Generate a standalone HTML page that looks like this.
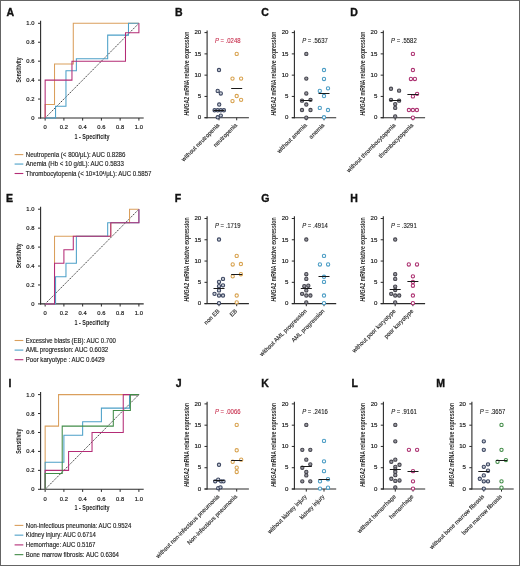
<!DOCTYPE html><html><head><meta charset="utf-8"><style>html,body{margin:0;padding:0;background:#fff;}svg{display:block;will-change:transform;}text{font-family:"Liberation Sans",sans-serif;}</style></head><body>
<svg width="520" height="566" viewBox="0 0 520 566">
<rect x="0" y="0" width="520" height="566" fill="#fff"/>
<text x="6.60" y="15.80" font-size="10.5" text-anchor="start" fill="#111" font-weight="bold" stroke="#111" stroke-width="0.35">A</text>
<line x1="40.60" y1="20.80" x2="40.60" y2="118.50" stroke="#2a2a2a" stroke-width="1.1" />
<line x1="40.10" y1="118.00" x2="143.70" y2="118.00" stroke="#2a2a2a" stroke-width="1.1" />
<line x1="38.00" y1="118.00" x2="40.60" y2="118.00" stroke="#2a2a2a" stroke-width="1.0" />
<text x="34.40" y="120.00" font-size="5.8" text-anchor="end" fill="#1a1a1a" stroke="#1a1a1a" stroke-width="0.18">0</text>
<line x1="45.15" y1="118.00" x2="45.15" y2="120.60" stroke="#2a2a2a" stroke-width="1.0" />
<text x="45.15" y="129.20" font-size="5.8" text-anchor="middle" fill="#1a1a1a" stroke="#1a1a1a" stroke-width="0.18">0</text>
<line x1="38.00" y1="99.06" x2="40.60" y2="99.06" stroke="#2a2a2a" stroke-width="1.0" />
<text x="34.40" y="101.06" font-size="5.8" text-anchor="end" fill="#1a1a1a" stroke="#1a1a1a" stroke-width="0.18">0.2</text>
<line x1="63.90" y1="118.00" x2="63.90" y2="120.60" stroke="#2a2a2a" stroke-width="1.0" />
<text x="63.90" y="129.20" font-size="5.8" text-anchor="middle" fill="#1a1a1a" stroke="#1a1a1a" stroke-width="0.18">0.2</text>
<line x1="38.00" y1="80.12" x2="40.60" y2="80.12" stroke="#2a2a2a" stroke-width="1.0" />
<text x="34.40" y="82.12" font-size="5.8" text-anchor="end" fill="#1a1a1a" stroke="#1a1a1a" stroke-width="0.18">0.4</text>
<line x1="82.65" y1="118.00" x2="82.65" y2="120.60" stroke="#2a2a2a" stroke-width="1.0" />
<text x="82.65" y="129.20" font-size="5.8" text-anchor="middle" fill="#1a1a1a" stroke="#1a1a1a" stroke-width="0.18">0.4</text>
<line x1="38.00" y1="61.18" x2="40.60" y2="61.18" stroke="#2a2a2a" stroke-width="1.0" />
<text x="34.40" y="63.18" font-size="5.8" text-anchor="end" fill="#1a1a1a" stroke="#1a1a1a" stroke-width="0.18">0.6</text>
<line x1="101.40" y1="118.00" x2="101.40" y2="120.60" stroke="#2a2a2a" stroke-width="1.0" />
<text x="101.40" y="129.20" font-size="5.8" text-anchor="middle" fill="#1a1a1a" stroke="#1a1a1a" stroke-width="0.18">0.6</text>
<line x1="38.00" y1="42.24" x2="40.60" y2="42.24" stroke="#2a2a2a" stroke-width="1.0" />
<text x="34.40" y="44.24" font-size="5.8" text-anchor="end" fill="#1a1a1a" stroke="#1a1a1a" stroke-width="0.18">0.8</text>
<line x1="120.15" y1="118.00" x2="120.15" y2="120.60" stroke="#2a2a2a" stroke-width="1.0" />
<text x="120.15" y="129.20" font-size="5.8" text-anchor="middle" fill="#1a1a1a" stroke="#1a1a1a" stroke-width="0.18">0.8</text>
<line x1="38.00" y1="23.30" x2="40.60" y2="23.30" stroke="#2a2a2a" stroke-width="1.0" />
<text x="34.40" y="25.30" font-size="5.8" text-anchor="end" fill="#1a1a1a" stroke="#1a1a1a" stroke-width="0.18">1.0</text>
<line x1="138.90" y1="118.00" x2="138.90" y2="120.60" stroke="#2a2a2a" stroke-width="1.0" />
<text x="138.90" y="129.20" font-size="5.8" text-anchor="middle" fill="#1a1a1a" stroke="#1a1a1a" stroke-width="0.18">1.0</text>
<text x="20.90" y="69.95" font-size="7" text-anchor="middle" fill="#222" font-weight="bold" textLength="25.00" lengthAdjust="spacingAndGlyphs" transform="rotate(-90 20.90 69.95)" >Sensitivity</text>
<text x="92.03" y="139.00" font-size="7" text-anchor="middle" fill="#222" font-weight="bold" textLength="35.00" lengthAdjust="spacingAndGlyphs" >1 - Specificity</text>
<line x1="45.15" y1="118.00" x2="138.90" y2="23.30" stroke="#2a2a2a" stroke-width="0.9" stroke-dasharray="1.5 1.0"/>
<polyline points="45.15,118.00 45.15,104.46 54.52,104.46 54.52,104.46 54.52,63.93 73.28,63.93 73.28,23.30 138.90,23.30" fill="none" stroke="#DA9F5C" stroke-width="1.05" stroke-linejoin="miter"/>
<polyline points="45.15,118.00 55.56,118.00 55.56,106.16 65.96,106.16 65.96,70.65 76.37,70.65 76.37,58.81 107.68,58.81 107.68,35.14 128.49,35.14 128.49,23.30 138.90,23.30" fill="none" stroke="#4CA0C8" stroke-width="1.05" stroke-linejoin="miter"/>
<polyline points="45.15,118.00 45.15,80.12 71.96,80.12 71.96,61.18 125.49,61.18 125.49,32.77 138.90,32.77 138.90,23.30" fill="none" stroke="#B42C76" stroke-width="1.05" stroke-linejoin="miter"/>
<line x1="14.60" y1="154.60" x2="23.30" y2="154.60" stroke="#DA9F5C" stroke-width="1.1" />
<text x="25.80" y="156.80" font-size="6.4" text-anchor="start" fill="#222" textLength="99.60" lengthAdjust="spacingAndGlyphs" stroke="#222" stroke-width="0.14">Neutropenia (&lt; 800/μL): AUC 0.8286</text>
<line x1="14.60" y1="164.05" x2="23.30" y2="164.05" stroke="#4CA0C8" stroke-width="1.1" />
<text x="25.80" y="166.25" font-size="6.4" text-anchor="start" fill="#222" textLength="98.00" lengthAdjust="spacingAndGlyphs" stroke="#222" stroke-width="0.14">Anemia (Hb &lt; 10 g/dL): AUC 0.5833</text>
<line x1="14.60" y1="173.50" x2="23.30" y2="173.50" stroke="#B42C76" stroke-width="1.1" />
<text x="25.80" y="175.70" font-size="6.4" text-anchor="start" fill="#222" textLength="125.70" lengthAdjust="spacingAndGlyphs" stroke="#222" stroke-width="0.14">Thrombocytopenia (&lt; 10×10<tspan font-size="3.6" dy="-2">4</tspan><tspan dy="2">/μL): AUC 0.5857</tspan></text>
<text x="6.10" y="201.70" font-size="10.5" text-anchor="start" fill="#111" font-weight="bold" stroke="#111" stroke-width="0.35">E</text>
<line x1="40.60" y1="206.70" x2="40.60" y2="304.40" stroke="#2a2a2a" stroke-width="1.1" />
<line x1="40.10" y1="303.90" x2="143.70" y2="303.90" stroke="#2a2a2a" stroke-width="1.1" />
<line x1="38.00" y1="303.90" x2="40.60" y2="303.90" stroke="#2a2a2a" stroke-width="1.0" />
<text x="34.40" y="305.90" font-size="5.8" text-anchor="end" fill="#1a1a1a" stroke="#1a1a1a" stroke-width="0.18">0</text>
<line x1="45.15" y1="303.90" x2="45.15" y2="306.50" stroke="#2a2a2a" stroke-width="1.0" />
<text x="45.15" y="315.10" font-size="5.8" text-anchor="middle" fill="#1a1a1a" stroke="#1a1a1a" stroke-width="0.18">0</text>
<line x1="38.00" y1="284.96" x2="40.60" y2="284.96" stroke="#2a2a2a" stroke-width="1.0" />
<text x="34.40" y="286.96" font-size="5.8" text-anchor="end" fill="#1a1a1a" stroke="#1a1a1a" stroke-width="0.18">0.2</text>
<line x1="63.90" y1="303.90" x2="63.90" y2="306.50" stroke="#2a2a2a" stroke-width="1.0" />
<text x="63.90" y="315.10" font-size="5.8" text-anchor="middle" fill="#1a1a1a" stroke="#1a1a1a" stroke-width="0.18">0.2</text>
<line x1="38.00" y1="266.02" x2="40.60" y2="266.02" stroke="#2a2a2a" stroke-width="1.0" />
<text x="34.40" y="268.02" font-size="5.8" text-anchor="end" fill="#1a1a1a" stroke="#1a1a1a" stroke-width="0.18">0.4</text>
<line x1="82.65" y1="303.90" x2="82.65" y2="306.50" stroke="#2a2a2a" stroke-width="1.0" />
<text x="82.65" y="315.10" font-size="5.8" text-anchor="middle" fill="#1a1a1a" stroke="#1a1a1a" stroke-width="0.18">0.4</text>
<line x1="38.00" y1="247.08" x2="40.60" y2="247.08" stroke="#2a2a2a" stroke-width="1.0" />
<text x="34.40" y="249.08" font-size="5.8" text-anchor="end" fill="#1a1a1a" stroke="#1a1a1a" stroke-width="0.18">0.6</text>
<line x1="101.40" y1="303.90" x2="101.40" y2="306.50" stroke="#2a2a2a" stroke-width="1.0" />
<text x="101.40" y="315.10" font-size="5.8" text-anchor="middle" fill="#1a1a1a" stroke="#1a1a1a" stroke-width="0.18">0.6</text>
<line x1="38.00" y1="228.14" x2="40.60" y2="228.14" stroke="#2a2a2a" stroke-width="1.0" />
<text x="34.40" y="230.14" font-size="5.8" text-anchor="end" fill="#1a1a1a" stroke="#1a1a1a" stroke-width="0.18">0.8</text>
<line x1="120.15" y1="303.90" x2="120.15" y2="306.50" stroke="#2a2a2a" stroke-width="1.0" />
<text x="120.15" y="315.10" font-size="5.8" text-anchor="middle" fill="#1a1a1a" stroke="#1a1a1a" stroke-width="0.18">0.8</text>
<line x1="38.00" y1="209.20" x2="40.60" y2="209.20" stroke="#2a2a2a" stroke-width="1.0" />
<text x="34.40" y="211.20" font-size="5.8" text-anchor="end" fill="#1a1a1a" stroke="#1a1a1a" stroke-width="0.18">1.0</text>
<line x1="138.90" y1="303.90" x2="138.90" y2="306.50" stroke="#2a2a2a" stroke-width="1.0" />
<text x="138.90" y="315.10" font-size="5.8" text-anchor="middle" fill="#1a1a1a" stroke="#1a1a1a" stroke-width="0.18">1.0</text>
<text x="20.90" y="255.85" font-size="7" text-anchor="middle" fill="#222" font-weight="bold" textLength="25.00" lengthAdjust="spacingAndGlyphs" transform="rotate(-90 20.90 255.85)" >Sensitivity</text>
<text x="92.03" y="324.90" font-size="7" text-anchor="middle" fill="#222" font-weight="bold" textLength="35.00" lengthAdjust="spacingAndGlyphs" >1 - Specificity</text>
<line x1="45.15" y1="303.90" x2="138.90" y2="209.20" stroke="#2a2a2a" stroke-width="0.9" stroke-dasharray="1.5 1.0"/>
<polyline points="45.15,303.90 54.52,303.90 54.52,236.28 110.78,236.28 110.78,222.74 129.53,222.74 129.53,209.20 138.90,209.20" fill="none" stroke="#DA9F5C" stroke-width="1.05" stroke-linejoin="miter"/>
<polyline points="45.15,303.90 55.56,303.90 55.56,276.82 65.96,276.82 65.96,263.27 76.37,263.27 76.37,236.28 107.68,236.28 107.68,222.74 138.90,222.74 138.90,209.20" fill="none" stroke="#4CA0C8" stroke-width="1.05" stroke-linejoin="miter"/>
<polyline points="45.15,303.90 54.52,303.90 54.52,263.27 63.90,263.27 63.90,249.83 73.28,249.83 73.28,236.28 110.78,236.28 110.78,222.74 138.90,222.74 138.90,209.20" fill="none" stroke="#B42C76" stroke-width="1.05" stroke-linejoin="miter"/>
<line x1="14.60" y1="340.50" x2="23.30" y2="340.50" stroke="#DA9F5C" stroke-width="1.1" />
<text x="25.80" y="342.70" font-size="6.4" text-anchor="start" fill="#222" textLength="90.00" lengthAdjust="spacingAndGlyphs" stroke="#222" stroke-width="0.14">Excessive blasts (EB): AUC 0.700</text>
<line x1="14.60" y1="350.10" x2="23.30" y2="350.10" stroke="#4CA0C8" stroke-width="1.1" />
<text x="25.80" y="352.30" font-size="6.4" text-anchor="start" fill="#222" textLength="82.40" lengthAdjust="spacingAndGlyphs" stroke="#222" stroke-width="0.14">AML progression: AUC 0.6032</text>
<line x1="14.60" y1="359.70" x2="23.30" y2="359.70" stroke="#B42C76" stroke-width="1.1" />
<text x="25.80" y="361.90" font-size="6.4" text-anchor="start" fill="#222" textLength="78.90" lengthAdjust="spacingAndGlyphs" stroke="#222" stroke-width="0.14">Poor karyotype : AUC 0.6429</text>
<text x="8.60" y="387.10" font-size="10.5" text-anchor="start" fill="#111" font-weight="bold" stroke="#111" stroke-width="0.35">I</text>
<line x1="40.60" y1="392.10" x2="40.60" y2="489.80" stroke="#2a2a2a" stroke-width="1.1" />
<line x1="40.10" y1="489.30" x2="143.70" y2="489.30" stroke="#2a2a2a" stroke-width="1.1" />
<line x1="38.00" y1="489.30" x2="40.60" y2="489.30" stroke="#2a2a2a" stroke-width="1.0" />
<text x="34.40" y="491.30" font-size="5.8" text-anchor="end" fill="#1a1a1a" stroke="#1a1a1a" stroke-width="0.18">0</text>
<line x1="45.15" y1="489.30" x2="45.15" y2="491.90" stroke="#2a2a2a" stroke-width="1.0" />
<text x="45.15" y="500.50" font-size="5.8" text-anchor="middle" fill="#1a1a1a" stroke="#1a1a1a" stroke-width="0.18">0</text>
<line x1="38.00" y1="470.36" x2="40.60" y2="470.36" stroke="#2a2a2a" stroke-width="1.0" />
<text x="34.40" y="472.36" font-size="5.8" text-anchor="end" fill="#1a1a1a" stroke="#1a1a1a" stroke-width="0.18">0.2</text>
<line x1="63.90" y1="489.30" x2="63.90" y2="491.90" stroke="#2a2a2a" stroke-width="1.0" />
<text x="63.90" y="500.50" font-size="5.8" text-anchor="middle" fill="#1a1a1a" stroke="#1a1a1a" stroke-width="0.18">0.2</text>
<line x1="38.00" y1="451.42" x2="40.60" y2="451.42" stroke="#2a2a2a" stroke-width="1.0" />
<text x="34.40" y="453.42" font-size="5.8" text-anchor="end" fill="#1a1a1a" stroke="#1a1a1a" stroke-width="0.18">0.4</text>
<line x1="82.65" y1="489.30" x2="82.65" y2="491.90" stroke="#2a2a2a" stroke-width="1.0" />
<text x="82.65" y="500.50" font-size="5.8" text-anchor="middle" fill="#1a1a1a" stroke="#1a1a1a" stroke-width="0.18">0.4</text>
<line x1="38.00" y1="432.48" x2="40.60" y2="432.48" stroke="#2a2a2a" stroke-width="1.0" />
<text x="34.40" y="434.48" font-size="5.8" text-anchor="end" fill="#1a1a1a" stroke="#1a1a1a" stroke-width="0.18">0.6</text>
<line x1="101.40" y1="489.30" x2="101.40" y2="491.90" stroke="#2a2a2a" stroke-width="1.0" />
<text x="101.40" y="500.50" font-size="5.8" text-anchor="middle" fill="#1a1a1a" stroke="#1a1a1a" stroke-width="0.18">0.6</text>
<line x1="38.00" y1="413.54" x2="40.60" y2="413.54" stroke="#2a2a2a" stroke-width="1.0" />
<text x="34.40" y="415.54" font-size="5.8" text-anchor="end" fill="#1a1a1a" stroke="#1a1a1a" stroke-width="0.18">0.8</text>
<line x1="120.15" y1="489.30" x2="120.15" y2="491.90" stroke="#2a2a2a" stroke-width="1.0" />
<text x="120.15" y="500.50" font-size="5.8" text-anchor="middle" fill="#1a1a1a" stroke="#1a1a1a" stroke-width="0.18">0.8</text>
<line x1="38.00" y1="394.60" x2="40.60" y2="394.60" stroke="#2a2a2a" stroke-width="1.0" />
<text x="34.40" y="396.60" font-size="5.8" text-anchor="end" fill="#1a1a1a" stroke="#1a1a1a" stroke-width="0.18">1.0</text>
<line x1="138.90" y1="489.30" x2="138.90" y2="491.90" stroke="#2a2a2a" stroke-width="1.0" />
<text x="138.90" y="500.50" font-size="5.8" text-anchor="middle" fill="#1a1a1a" stroke="#1a1a1a" stroke-width="0.18">1.0</text>
<text x="20.90" y="441.25" font-size="7" text-anchor="middle" fill="#222" font-weight="bold" textLength="25.00" lengthAdjust="spacingAndGlyphs" transform="rotate(-90 20.90 441.25)" >Sensitivity</text>
<text x="92.03" y="510.30" font-size="7" text-anchor="middle" fill="#222" font-weight="bold" textLength="35.00" lengthAdjust="spacingAndGlyphs" >1 - Specificity</text>
<line x1="45.15" y1="489.30" x2="138.90" y2="394.60" stroke="#2a2a2a" stroke-width="0.9" stroke-dasharray="1.5 1.0"/>
<polyline points="45.15,489.30 45.15,426.14 58.56,426.14 58.56,394.60 138.90,394.60" fill="none" stroke="#DA9F5C" stroke-width="1.05" stroke-linejoin="miter"/>
<polyline points="45.15,489.30 45.15,462.22 63.90,462.22 63.90,435.23 82.65,435.23 82.65,421.68 101.40,421.68 101.40,408.14 129.53,408.14 129.53,394.60 138.90,394.60" fill="none" stroke="#4CA0C8" stroke-width="1.05" stroke-linejoin="miter"/>
<polyline points="45.15,489.30 45.15,470.36 68.59,470.36 68.59,451.42 92.03,451.42 92.03,432.48 123.24,432.48 123.24,394.60 138.90,394.60" fill="none" stroke="#B42C76" stroke-width="1.05" stroke-linejoin="miter"/>
<polyline points="45.15,489.30 45.15,473.49 62.21,473.49 62.21,426.14 113.31,426.14 113.31,410.41 130.37,410.41 130.37,394.60 138.90,394.60" fill="none" stroke="#428C48" stroke-width="1.05" stroke-linejoin="miter"/>
<line x1="14.60" y1="525.40" x2="23.30" y2="525.40" stroke="#DA9F5C" stroke-width="1.1" />
<text x="25.80" y="527.60" font-size="6.4" text-anchor="start" fill="#222" textLength="105.50" lengthAdjust="spacingAndGlyphs" stroke="#222" stroke-width="0.14">Non-infectious pneumonia: AUC 0.9524</text>
<line x1="14.60" y1="535.15" x2="23.30" y2="535.15" stroke="#4CA0C8" stroke-width="1.1" />
<text x="25.80" y="537.35" font-size="6.4" text-anchor="start" fill="#222" textLength="70.10" lengthAdjust="spacingAndGlyphs" stroke="#222" stroke-width="0.14">Kidney injury: AUC 0.6714</text>
<line x1="14.60" y1="544.90" x2="23.30" y2="544.90" stroke="#B42C76" stroke-width="1.1" />
<text x="25.80" y="547.10" font-size="6.4" text-anchor="start" fill="#222" textLength="69.70" lengthAdjust="spacingAndGlyphs" stroke="#222" stroke-width="0.14">Hemorrhage: AUC 0.5167</text>
<line x1="14.60" y1="554.65" x2="23.30" y2="554.65" stroke="#428C48" stroke-width="1.1" />
<text x="25.80" y="556.85" font-size="6.4" text-anchor="start" fill="#222" textLength="93.20" lengthAdjust="spacingAndGlyphs" stroke="#222" stroke-width="0.14">Bone marrow fibrosis: AUC 0.6364</text>
<text x="175.10" y="15.80" font-size="10.5" text-anchor="start" fill="#111" font-weight="bold" stroke="#111" stroke-width="0.35">B</text>
<line x1="207.10" y1="30.40" x2="207.10" y2="118.20" stroke="#2a2a2a" stroke-width="1.1" />
<line x1="204.50" y1="117.70" x2="248.90" y2="117.70" stroke="#2a2a2a" stroke-width="1.1" />
<line x1="204.50" y1="117.70" x2="207.10" y2="117.70" stroke="#2a2a2a" stroke-width="1.0" />
<text x="201.20" y="119.45" font-size="6.1" text-anchor="end" fill="#1a1a1a" stroke="#1a1a1a" stroke-width="0.18">0</text>
<line x1="204.50" y1="96.43" x2="207.10" y2="96.43" stroke="#2a2a2a" stroke-width="1.0" />
<text x="201.20" y="98.18" font-size="6.1" text-anchor="end" fill="#1a1a1a" stroke="#1a1a1a" stroke-width="0.18">5</text>
<line x1="204.50" y1="75.15" x2="207.10" y2="75.15" stroke="#2a2a2a" stroke-width="1.0" />
<text x="201.20" y="76.90" font-size="6.1" text-anchor="end" fill="#1a1a1a" stroke="#1a1a1a" stroke-width="0.18">10</text>
<line x1="204.50" y1="53.88" x2="207.10" y2="53.88" stroke="#2a2a2a" stroke-width="1.0" />
<text x="201.20" y="55.62" font-size="6.1" text-anchor="end" fill="#1a1a1a" stroke="#1a1a1a" stroke-width="0.18">15</text>
<line x1="204.50" y1="32.60" x2="207.10" y2="32.60" stroke="#2a2a2a" stroke-width="1.0" />
<text x="201.20" y="34.35" font-size="6.1" text-anchor="end" fill="#1a1a1a" stroke="#1a1a1a" stroke-width="0.18">20</text>
<line x1="219.00" y1="117.70" x2="219.00" y2="120.30" stroke="#2a2a2a" stroke-width="1.0" />
<line x1="236.70" y1="117.70" x2="236.70" y2="120.30" stroke="#2a2a2a" stroke-width="1.0" />
<text x="188.90" y="73.55" font-size="6.9" font-weight="bold" text-anchor="middle" fill="#2a2a2a" textLength="84" lengthAdjust="spacingAndGlyphs" transform="rotate(-90 188.90 73.55)"><tspan font-style="italic">HMGA2</tspan> mRNA relative expression</text>
<text x="214.90" y="42.50" font-size="6.8" fill="#C8304E" stroke="#C8304E" stroke-width="0.12" textLength="25.6" lengthAdjust="spacingAndGlyphs"><tspan font-style="italic">P</tspan> = .0248</text>
<circle cx="219.00" cy="70.04" r="1.65" fill="#C8CDD6" stroke="#3C4660" stroke-width="1.05"/>
<circle cx="217.70" cy="90.89" r="1.65" fill="#C8CDD6" stroke="#3C4660" stroke-width="1.05"/>
<circle cx="220.80" cy="93.45" r="1.65" fill="#C8CDD6" stroke="#3C4660" stroke-width="1.05"/>
<circle cx="219.20" cy="104.51" r="1.65" fill="#C8CDD6" stroke="#3C4660" stroke-width="1.05"/>
<circle cx="214.60" cy="110.25" r="1.65" fill="#C8CDD6" stroke="#3C4660" stroke-width="1.05"/>
<circle cx="217.70" cy="110.25" r="1.65" fill="#C8CDD6" stroke="#3C4660" stroke-width="1.05"/>
<circle cx="220.80" cy="110.25" r="1.65" fill="#C8CDD6" stroke="#3C4660" stroke-width="1.05"/>
<circle cx="223.90" cy="110.25" r="1.65" fill="#C8CDD6" stroke="#3C4660" stroke-width="1.05"/>
<circle cx="217.70" cy="117.27" r="1.65" fill="#C8CDD6" stroke="#3C4660" stroke-width="1.05"/>
<circle cx="220.80" cy="115.57" r="1.65" fill="#C8CDD6" stroke="#3C4660" stroke-width="1.05"/>
<circle cx="236.70" cy="53.88" r="1.65" fill="#fff" stroke="#D8A24E" stroke-width="1.05"/>
<circle cx="232.50" cy="78.55" r="1.65" fill="#fff" stroke="#D8A24E" stroke-width="1.05"/>
<circle cx="241.10" cy="78.55" r="1.65" fill="#fff" stroke="#D8A24E" stroke-width="1.05"/>
<circle cx="236.70" cy="96.00" r="1.65" fill="#fff" stroke="#D8A24E" stroke-width="1.05"/>
<circle cx="232.50" cy="101.11" r="1.65" fill="#fff" stroke="#D8A24E" stroke-width="1.05"/>
<circle cx="241.10" cy="99.83" r="1.65" fill="#fff" stroke="#D8A24E" stroke-width="1.05"/>
<line x1="213.50" y1="110.50" x2="224.50" y2="110.50" stroke="#1a1a1a" stroke-width="1.0" />
<line x1="231.20" y1="88.50" x2="242.20" y2="88.50" stroke="#1a1a1a" stroke-width="1.0" />
<text x="219.90" y="125.60" font-size="5.85" text-anchor="end" fill="#2a2a2a" stroke="#2a2a2a" stroke-width="0.14" transform="rotate(-45 219.90 125.60)">without neutropenia</text>
<text x="237.60" y="125.60" font-size="5.85" text-anchor="end" fill="#2a2a2a" stroke="#2a2a2a" stroke-width="0.14" transform="rotate(-45 237.60 125.60)">neutropenia</text>
<text x="261.20" y="15.80" font-size="10.5" text-anchor="start" fill="#111" font-weight="bold" stroke="#111" stroke-width="0.35">C</text>
<line x1="294.40" y1="30.40" x2="294.40" y2="118.20" stroke="#2a2a2a" stroke-width="1.1" />
<line x1="291.80" y1="117.70" x2="336.20" y2="117.70" stroke="#2a2a2a" stroke-width="1.1" />
<line x1="291.80" y1="117.70" x2="294.40" y2="117.70" stroke="#2a2a2a" stroke-width="1.0" />
<text x="288.50" y="119.45" font-size="6.1" text-anchor="end" fill="#1a1a1a" stroke="#1a1a1a" stroke-width="0.18">0</text>
<line x1="291.80" y1="96.43" x2="294.40" y2="96.43" stroke="#2a2a2a" stroke-width="1.0" />
<text x="288.50" y="98.18" font-size="6.1" text-anchor="end" fill="#1a1a1a" stroke="#1a1a1a" stroke-width="0.18">5</text>
<line x1="291.80" y1="75.15" x2="294.40" y2="75.15" stroke="#2a2a2a" stroke-width="1.0" />
<text x="288.50" y="76.90" font-size="6.1" text-anchor="end" fill="#1a1a1a" stroke="#1a1a1a" stroke-width="0.18">10</text>
<line x1="291.80" y1="53.88" x2="294.40" y2="53.88" stroke="#2a2a2a" stroke-width="1.0" />
<text x="288.50" y="55.62" font-size="6.1" text-anchor="end" fill="#1a1a1a" stroke="#1a1a1a" stroke-width="0.18">15</text>
<line x1="291.80" y1="32.60" x2="294.40" y2="32.60" stroke="#2a2a2a" stroke-width="1.0" />
<text x="288.50" y="34.35" font-size="6.1" text-anchor="end" fill="#1a1a1a" stroke="#1a1a1a" stroke-width="0.18">20</text>
<line x1="306.30" y1="117.70" x2="306.30" y2="120.30" stroke="#2a2a2a" stroke-width="1.0" />
<line x1="324.00" y1="117.70" x2="324.00" y2="120.30" stroke="#2a2a2a" stroke-width="1.0" />
<text x="276.20" y="73.55" font-size="6.9" font-weight="bold" text-anchor="middle" fill="#2a2a2a" textLength="84" lengthAdjust="spacingAndGlyphs" transform="rotate(-90 276.20 73.55)"><tspan font-style="italic">HMGA2</tspan> mRNA relative expression</text>
<text x="302.20" y="42.50" font-size="6.8" fill="#222" stroke="#222" stroke-width="0.12" textLength="25.6" lengthAdjust="spacingAndGlyphs"><tspan font-style="italic">P</tspan> = .5637</text>
<circle cx="306.30" cy="53.88" r="1.65" fill="#9A9AA2" stroke="#45454D" stroke-width="1.05"/>
<circle cx="306.30" cy="78.55" r="1.65" fill="#9A9AA2" stroke="#45454D" stroke-width="1.05"/>
<circle cx="306.30" cy="93.45" r="1.65" fill="#9A9AA2" stroke="#45454D" stroke-width="1.05"/>
<circle cx="302.00" cy="100.68" r="1.65" fill="#9A9AA2" stroke="#45454D" stroke-width="1.05"/>
<circle cx="310.50" cy="99.83" r="1.65" fill="#9A9AA2" stroke="#45454D" stroke-width="1.05"/>
<circle cx="306.30" cy="104.51" r="1.65" fill="#9A9AA2" stroke="#45454D" stroke-width="1.05"/>
<circle cx="302.00" cy="110.04" r="1.65" fill="#9A9AA2" stroke="#45454D" stroke-width="1.05"/>
<circle cx="310.50" cy="110.04" r="1.65" fill="#9A9AA2" stroke="#45454D" stroke-width="1.05"/>
<circle cx="306.30" cy="117.70" r="1.65" fill="#9A9AA2" stroke="#45454D" stroke-width="1.05"/>
<circle cx="324.00" cy="70.04" r="1.65" fill="#fff" stroke="#4A9CC4" stroke-width="1.05"/>
<circle cx="324.00" cy="78.98" r="1.65" fill="#fff" stroke="#4A9CC4" stroke-width="1.05"/>
<circle cx="319.80" cy="90.89" r="1.65" fill="#fff" stroke="#4A9CC4" stroke-width="1.05"/>
<circle cx="328.00" cy="88.34" r="1.65" fill="#fff" stroke="#4A9CC4" stroke-width="1.05"/>
<circle cx="324.00" cy="96.00" r="1.65" fill="#fff" stroke="#4A9CC4" stroke-width="1.05"/>
<circle cx="319.80" cy="107.91" r="1.65" fill="#fff" stroke="#4A9CC4" stroke-width="1.05"/>
<circle cx="328.00" cy="110.04" r="1.65" fill="#fff" stroke="#4A9CC4" stroke-width="1.05"/>
<circle cx="324.00" cy="117.27" r="1.65" fill="#fff" stroke="#4A9CC4" stroke-width="1.05"/>
<line x1="300.80" y1="100.50" x2="311.80" y2="100.50" stroke="#1a1a1a" stroke-width="1.0" />
<line x1="318.50" y1="93.50" x2="329.50" y2="93.50" stroke="#1a1a1a" stroke-width="1.0" />
<text x="307.20" y="125.60" font-size="5.85" text-anchor="end" fill="#2a2a2a" stroke="#2a2a2a" stroke-width="0.14" transform="rotate(-45 307.20 125.60)">without anemia</text>
<text x="324.90" y="125.60" font-size="5.85" text-anchor="end" fill="#2a2a2a" stroke="#2a2a2a" stroke-width="0.14" transform="rotate(-45 324.90 125.60)">anemia</text>
<text x="350.30" y="15.80" font-size="10.5" text-anchor="start" fill="#111" font-weight="bold" stroke="#111" stroke-width="0.35">D</text>
<line x1="383.30" y1="30.40" x2="383.30" y2="118.20" stroke="#2a2a2a" stroke-width="1.1" />
<line x1="380.70" y1="117.70" x2="425.10" y2="117.70" stroke="#2a2a2a" stroke-width="1.1" />
<line x1="380.70" y1="117.70" x2="383.30" y2="117.70" stroke="#2a2a2a" stroke-width="1.0" />
<text x="377.40" y="119.45" font-size="6.1" text-anchor="end" fill="#1a1a1a" stroke="#1a1a1a" stroke-width="0.18">0</text>
<line x1="380.70" y1="96.43" x2="383.30" y2="96.43" stroke="#2a2a2a" stroke-width="1.0" />
<text x="377.40" y="98.18" font-size="6.1" text-anchor="end" fill="#1a1a1a" stroke="#1a1a1a" stroke-width="0.18">5</text>
<line x1="380.70" y1="75.15" x2="383.30" y2="75.15" stroke="#2a2a2a" stroke-width="1.0" />
<text x="377.40" y="76.90" font-size="6.1" text-anchor="end" fill="#1a1a1a" stroke="#1a1a1a" stroke-width="0.18">10</text>
<line x1="380.70" y1="53.88" x2="383.30" y2="53.88" stroke="#2a2a2a" stroke-width="1.0" />
<text x="377.40" y="55.62" font-size="6.1" text-anchor="end" fill="#1a1a1a" stroke="#1a1a1a" stroke-width="0.18">15</text>
<line x1="380.70" y1="32.60" x2="383.30" y2="32.60" stroke="#2a2a2a" stroke-width="1.0" />
<text x="377.40" y="34.35" font-size="6.1" text-anchor="end" fill="#1a1a1a" stroke="#1a1a1a" stroke-width="0.18">20</text>
<line x1="395.20" y1="117.70" x2="395.20" y2="120.30" stroke="#2a2a2a" stroke-width="1.0" />
<line x1="412.90" y1="117.70" x2="412.90" y2="120.30" stroke="#2a2a2a" stroke-width="1.0" />
<text x="365.10" y="73.55" font-size="6.9" font-weight="bold" text-anchor="middle" fill="#2a2a2a" textLength="84" lengthAdjust="spacingAndGlyphs" transform="rotate(-90 365.10 73.55)"><tspan font-style="italic">HMGA2</tspan> mRNA relative expression</text>
<text x="391.10" y="42.50" font-size="6.8" fill="#222" stroke="#222" stroke-width="0.12" textLength="25.6" lengthAdjust="spacingAndGlyphs"><tspan font-style="italic">P</tspan> = .5582</text>
<circle cx="391.00" cy="88.77" r="1.65" fill="#9A9AA2" stroke="#45454D" stroke-width="1.05"/>
<circle cx="399.10" cy="90.68" r="1.65" fill="#9A9AA2" stroke="#45454D" stroke-width="1.05"/>
<circle cx="391.00" cy="99.83" r="1.65" fill="#9A9AA2" stroke="#45454D" stroke-width="1.05"/>
<circle cx="399.10" cy="100.68" r="1.65" fill="#9A9AA2" stroke="#45454D" stroke-width="1.05"/>
<circle cx="395.20" cy="104.08" r="1.65" fill="#9A9AA2" stroke="#45454D" stroke-width="1.05"/>
<circle cx="395.20" cy="107.91" r="1.65" fill="#9A9AA2" stroke="#45454D" stroke-width="1.05"/>
<circle cx="395.20" cy="116.42" r="1.65" fill="#9A9AA2" stroke="#45454D" stroke-width="1.05"/>
<circle cx="412.90" cy="53.88" r="1.65" fill="#fff" stroke="#AC3070" stroke-width="1.05"/>
<circle cx="412.90" cy="70.04" r="1.65" fill="#fff" stroke="#AC3070" stroke-width="1.05"/>
<circle cx="410.90" cy="78.98" r="1.65" fill="#fff" stroke="#AC3070" stroke-width="1.05"/>
<circle cx="414.90" cy="78.98" r="1.65" fill="#fff" stroke="#AC3070" stroke-width="1.05"/>
<circle cx="417.10" cy="93.87" r="1.65" fill="#fff" stroke="#AC3070" stroke-width="1.05"/>
<circle cx="412.90" cy="96.43" r="1.65" fill="#fff" stroke="#AC3070" stroke-width="1.05"/>
<circle cx="408.90" cy="110.04" r="1.65" fill="#fff" stroke="#AC3070" stroke-width="1.05"/>
<circle cx="412.90" cy="110.04" r="1.65" fill="#fff" stroke="#AC3070" stroke-width="1.05"/>
<circle cx="416.90" cy="110.04" r="1.65" fill="#fff" stroke="#AC3070" stroke-width="1.05"/>
<circle cx="412.90" cy="117.70" r="1.65" fill="#fff" stroke="#AC3070" stroke-width="1.05"/>
<line x1="389.70" y1="100.50" x2="400.70" y2="100.50" stroke="#1a1a1a" stroke-width="1.0" />
<line x1="407.40" y1="94.50" x2="418.40" y2="94.50" stroke="#1a1a1a" stroke-width="1.0" />
<text x="396.10" y="125.60" font-size="5.85" text-anchor="end" fill="#2a2a2a" stroke="#2a2a2a" stroke-width="0.14" transform="rotate(-45 396.10 125.60)">without thrombocytopenia</text>
<text x="413.80" y="125.60" font-size="5.85" text-anchor="end" fill="#2a2a2a" stroke="#2a2a2a" stroke-width="0.14" transform="rotate(-45 413.80 125.60)">thrombocytopenia</text>
<text x="174.80" y="201.70" font-size="10.5" text-anchor="start" fill="#111" font-weight="bold" stroke="#111" stroke-width="0.35">F</text>
<line x1="207.10" y1="216.30" x2="207.10" y2="304.10" stroke="#2a2a2a" stroke-width="1.1" />
<line x1="204.50" y1="303.60" x2="248.90" y2="303.60" stroke="#2a2a2a" stroke-width="1.1" />
<line x1="204.50" y1="303.60" x2="207.10" y2="303.60" stroke="#2a2a2a" stroke-width="1.0" />
<text x="201.20" y="305.35" font-size="6.1" text-anchor="end" fill="#1a1a1a" stroke="#1a1a1a" stroke-width="0.18">0</text>
<line x1="204.50" y1="282.33" x2="207.10" y2="282.33" stroke="#2a2a2a" stroke-width="1.0" />
<text x="201.20" y="284.08" font-size="6.1" text-anchor="end" fill="#1a1a1a" stroke="#1a1a1a" stroke-width="0.18">5</text>
<line x1="204.50" y1="261.05" x2="207.10" y2="261.05" stroke="#2a2a2a" stroke-width="1.0" />
<text x="201.20" y="262.80" font-size="6.1" text-anchor="end" fill="#1a1a1a" stroke="#1a1a1a" stroke-width="0.18">10</text>
<line x1="204.50" y1="239.78" x2="207.10" y2="239.78" stroke="#2a2a2a" stroke-width="1.0" />
<text x="201.20" y="241.53" font-size="6.1" text-anchor="end" fill="#1a1a1a" stroke="#1a1a1a" stroke-width="0.18">15</text>
<line x1="204.50" y1="218.50" x2="207.10" y2="218.50" stroke="#2a2a2a" stroke-width="1.0" />
<text x="201.20" y="220.25" font-size="6.1" text-anchor="end" fill="#1a1a1a" stroke="#1a1a1a" stroke-width="0.18">20</text>
<line x1="219.00" y1="303.60" x2="219.00" y2="306.20" stroke="#2a2a2a" stroke-width="1.0" />
<line x1="236.70" y1="303.60" x2="236.70" y2="306.20" stroke="#2a2a2a" stroke-width="1.0" />
<text x="188.90" y="259.45" font-size="6.9" font-weight="bold" text-anchor="middle" fill="#2a2a2a" textLength="84" lengthAdjust="spacingAndGlyphs" transform="rotate(-90 188.90 259.45)"><tspan font-style="italic">HMGA2</tspan> mRNA relative expression</text>
<text x="214.90" y="228.40" font-size="6.8" fill="#222" stroke="#222" stroke-width="0.12" textLength="25.6" lengthAdjust="spacingAndGlyphs"><tspan font-style="italic">P</tspan> = .1719</text>
<circle cx="219.00" cy="239.52" r="1.65" fill="#C8CDD6" stroke="#3C4660" stroke-width="1.05"/>
<circle cx="223.00" cy="278.92" r="1.65" fill="#C8CDD6" stroke="#3C4660" stroke-width="1.05"/>
<circle cx="219.00" cy="281.90" r="1.65" fill="#C8CDD6" stroke="#3C4660" stroke-width="1.05"/>
<circle cx="223.00" cy="285.30" r="1.65" fill="#C8CDD6" stroke="#3C4660" stroke-width="1.05"/>
<circle cx="219.00" cy="286.15" r="1.65" fill="#C8CDD6" stroke="#3C4660" stroke-width="1.05"/>
<circle cx="219.00" cy="290.41" r="1.65" fill="#C8CDD6" stroke="#3C4660" stroke-width="1.05"/>
<circle cx="214.50" cy="293.81" r="1.65" fill="#C8CDD6" stroke="#3C4660" stroke-width="1.05"/>
<circle cx="219.00" cy="295.52" r="1.65" fill="#C8CDD6" stroke="#3C4660" stroke-width="1.05"/>
<circle cx="223.00" cy="295.52" r="1.65" fill="#C8CDD6" stroke="#3C4660" stroke-width="1.05"/>
<circle cx="219.00" cy="303.17" r="1.65" fill="#C8CDD6" stroke="#3C4660" stroke-width="1.05"/>
<circle cx="236.70" cy="255.94" r="1.65" fill="#fff" stroke="#D8A24E" stroke-width="1.05"/>
<circle cx="232.70" cy="264.45" r="1.65" fill="#fff" stroke="#D8A24E" stroke-width="1.05"/>
<circle cx="240.90" cy="264.03" r="1.65" fill="#fff" stroke="#D8A24E" stroke-width="1.05"/>
<circle cx="240.90" cy="274.24" r="1.65" fill="#fff" stroke="#D8A24E" stroke-width="1.05"/>
<circle cx="232.70" cy="276.37" r="1.65" fill="#fff" stroke="#D8A24E" stroke-width="1.05"/>
<circle cx="236.70" cy="295.52" r="1.65" fill="#fff" stroke="#D8A24E" stroke-width="1.05"/>
<circle cx="236.70" cy="302.32" r="1.65" fill="#fff" stroke="#D8A24E" stroke-width="1.05"/>
<line x1="213.50" y1="288.50" x2="224.50" y2="288.50" stroke="#1a1a1a" stroke-width="1.0" />
<line x1="231.20" y1="274.50" x2="242.20" y2="274.50" stroke="#1a1a1a" stroke-width="1.0" />
<text x="219.90" y="311.50" font-size="5.85" text-anchor="end" fill="#2a2a2a" stroke="#2a2a2a" stroke-width="0.14" transform="rotate(-45 219.90 311.50)">non EB</text>
<text x="237.60" y="311.50" font-size="5.85" text-anchor="end" fill="#2a2a2a" stroke="#2a2a2a" stroke-width="0.14" transform="rotate(-45 237.60 311.50)">EB</text>
<text x="261.20" y="201.70" font-size="10.5" text-anchor="start" fill="#111" font-weight="bold" stroke="#111" stroke-width="0.35">G</text>
<line x1="294.40" y1="216.30" x2="294.40" y2="304.10" stroke="#2a2a2a" stroke-width="1.1" />
<line x1="291.80" y1="303.60" x2="336.20" y2="303.60" stroke="#2a2a2a" stroke-width="1.1" />
<line x1="291.80" y1="303.60" x2="294.40" y2="303.60" stroke="#2a2a2a" stroke-width="1.0" />
<text x="288.50" y="305.35" font-size="6.1" text-anchor="end" fill="#1a1a1a" stroke="#1a1a1a" stroke-width="0.18">0</text>
<line x1="291.80" y1="282.33" x2="294.40" y2="282.33" stroke="#2a2a2a" stroke-width="1.0" />
<text x="288.50" y="284.08" font-size="6.1" text-anchor="end" fill="#1a1a1a" stroke="#1a1a1a" stroke-width="0.18">5</text>
<line x1="291.80" y1="261.05" x2="294.40" y2="261.05" stroke="#2a2a2a" stroke-width="1.0" />
<text x="288.50" y="262.80" font-size="6.1" text-anchor="end" fill="#1a1a1a" stroke="#1a1a1a" stroke-width="0.18">10</text>
<line x1="291.80" y1="239.78" x2="294.40" y2="239.78" stroke="#2a2a2a" stroke-width="1.0" />
<text x="288.50" y="241.53" font-size="6.1" text-anchor="end" fill="#1a1a1a" stroke="#1a1a1a" stroke-width="0.18">15</text>
<line x1="291.80" y1="218.50" x2="294.40" y2="218.50" stroke="#2a2a2a" stroke-width="1.0" />
<text x="288.50" y="220.25" font-size="6.1" text-anchor="end" fill="#1a1a1a" stroke="#1a1a1a" stroke-width="0.18">20</text>
<line x1="306.30" y1="303.60" x2="306.30" y2="306.20" stroke="#2a2a2a" stroke-width="1.0" />
<line x1="324.00" y1="303.60" x2="324.00" y2="306.20" stroke="#2a2a2a" stroke-width="1.0" />
<text x="276.20" y="259.45" font-size="6.9" font-weight="bold" text-anchor="middle" fill="#2a2a2a" textLength="84" lengthAdjust="spacingAndGlyphs" transform="rotate(-90 276.20 259.45)"><tspan font-style="italic">HMGA2</tspan> mRNA relative expression</text>
<text x="302.20" y="228.40" font-size="6.8" fill="#222" stroke="#222" stroke-width="0.12" textLength="25.6" lengthAdjust="spacingAndGlyphs"><tspan font-style="italic">P</tspan> = .4914</text>
<circle cx="306.30" cy="239.52" r="1.65" fill="#9A9AA2" stroke="#45454D" stroke-width="1.05"/>
<circle cx="306.30" cy="274.24" r="1.65" fill="#9A9AA2" stroke="#45454D" stroke-width="1.05"/>
<circle cx="306.30" cy="278.92" r="1.65" fill="#9A9AA2" stroke="#45454D" stroke-width="1.05"/>
<circle cx="304.30" cy="286.15" r="1.65" fill="#9A9AA2" stroke="#45454D" stroke-width="1.05"/>
<circle cx="308.30" cy="285.73" r="1.65" fill="#9A9AA2" stroke="#45454D" stroke-width="1.05"/>
<circle cx="306.30" cy="290.41" r="1.65" fill="#9A9AA2" stroke="#45454D" stroke-width="1.05"/>
<circle cx="302.10" cy="293.81" r="1.65" fill="#9A9AA2" stroke="#45454D" stroke-width="1.05"/>
<circle cx="306.30" cy="295.52" r="1.65" fill="#9A9AA2" stroke="#45454D" stroke-width="1.05"/>
<circle cx="310.40" cy="295.52" r="1.65" fill="#9A9AA2" stroke="#45454D" stroke-width="1.05"/>
<circle cx="306.30" cy="302.32" r="1.65" fill="#9A9AA2" stroke="#45454D" stroke-width="1.05"/>
<circle cx="324.00" cy="255.94" r="1.65" fill="#fff" stroke="#4A9CC4" stroke-width="1.05"/>
<circle cx="319.90" cy="264.45" r="1.65" fill="#fff" stroke="#4A9CC4" stroke-width="1.05"/>
<circle cx="328.10" cy="264.45" r="1.65" fill="#fff" stroke="#4A9CC4" stroke-width="1.05"/>
<circle cx="324.00" cy="276.79" r="1.65" fill="#fff" stroke="#4A9CC4" stroke-width="1.05"/>
<circle cx="324.00" cy="281.90" r="1.65" fill="#fff" stroke="#4A9CC4" stroke-width="1.05"/>
<circle cx="324.00" cy="295.52" r="1.65" fill="#fff" stroke="#4A9CC4" stroke-width="1.05"/>
<circle cx="324.00" cy="303.17" r="1.65" fill="#fff" stroke="#4A9CC4" stroke-width="1.05"/>
<line x1="300.80" y1="288.50" x2="311.80" y2="288.50" stroke="#1a1a1a" stroke-width="1.0" />
<line x1="318.50" y1="276.50" x2="329.50" y2="276.50" stroke="#1a1a1a" stroke-width="1.0" />
<text x="307.20" y="311.50" font-size="5.85" text-anchor="end" fill="#2a2a2a" stroke="#2a2a2a" stroke-width="0.14" transform="rotate(-45 307.20 311.50)">without AML progression</text>
<text x="324.90" y="311.50" font-size="5.85" text-anchor="end" fill="#2a2a2a" stroke="#2a2a2a" stroke-width="0.14" transform="rotate(-45 324.90 311.50)">AML progression</text>
<text x="350.30" y="201.70" font-size="10.5" text-anchor="start" fill="#111" font-weight="bold" stroke="#111" stroke-width="0.35">H</text>
<line x1="383.30" y1="216.30" x2="383.30" y2="304.10" stroke="#2a2a2a" stroke-width="1.1" />
<line x1="380.70" y1="303.60" x2="425.10" y2="303.60" stroke="#2a2a2a" stroke-width="1.1" />
<line x1="380.70" y1="303.60" x2="383.30" y2="303.60" stroke="#2a2a2a" stroke-width="1.0" />
<text x="377.40" y="305.35" font-size="6.1" text-anchor="end" fill="#1a1a1a" stroke="#1a1a1a" stroke-width="0.18">0</text>
<line x1="380.70" y1="282.33" x2="383.30" y2="282.33" stroke="#2a2a2a" stroke-width="1.0" />
<text x="377.40" y="284.08" font-size="6.1" text-anchor="end" fill="#1a1a1a" stroke="#1a1a1a" stroke-width="0.18">5</text>
<line x1="380.70" y1="261.05" x2="383.30" y2="261.05" stroke="#2a2a2a" stroke-width="1.0" />
<text x="377.40" y="262.80" font-size="6.1" text-anchor="end" fill="#1a1a1a" stroke="#1a1a1a" stroke-width="0.18">10</text>
<line x1="380.70" y1="239.78" x2="383.30" y2="239.78" stroke="#2a2a2a" stroke-width="1.0" />
<text x="377.40" y="241.53" font-size="6.1" text-anchor="end" fill="#1a1a1a" stroke="#1a1a1a" stroke-width="0.18">15</text>
<line x1="380.70" y1="218.50" x2="383.30" y2="218.50" stroke="#2a2a2a" stroke-width="1.0" />
<text x="377.40" y="220.25" font-size="6.1" text-anchor="end" fill="#1a1a1a" stroke="#1a1a1a" stroke-width="0.18">20</text>
<line x1="395.20" y1="303.60" x2="395.20" y2="306.20" stroke="#2a2a2a" stroke-width="1.0" />
<line x1="412.90" y1="303.60" x2="412.90" y2="306.20" stroke="#2a2a2a" stroke-width="1.0" />
<text x="365.10" y="259.45" font-size="6.9" font-weight="bold" text-anchor="middle" fill="#2a2a2a" textLength="84" lengthAdjust="spacingAndGlyphs" transform="rotate(-90 365.10 259.45)"><tspan font-style="italic">HMGA2</tspan> mRNA relative expression</text>
<text x="391.10" y="228.40" font-size="6.8" fill="#222" stroke="#222" stroke-width="0.12" textLength="25.6" lengthAdjust="spacingAndGlyphs"><tspan font-style="italic">P</tspan> = .3291</text>
<circle cx="395.20" cy="239.52" r="1.65" fill="#9A9AA2" stroke="#45454D" stroke-width="1.05"/>
<circle cx="395.20" cy="274.24" r="1.65" fill="#9A9AA2" stroke="#45454D" stroke-width="1.05"/>
<circle cx="395.20" cy="278.92" r="1.65" fill="#9A9AA2" stroke="#45454D" stroke-width="1.05"/>
<circle cx="395.20" cy="286.58" r="1.65" fill="#9A9AA2" stroke="#45454D" stroke-width="1.05"/>
<circle cx="395.20" cy="289.98" r="1.65" fill="#9A9AA2" stroke="#45454D" stroke-width="1.05"/>
<circle cx="391.20" cy="293.81" r="1.65" fill="#9A9AA2" stroke="#45454D" stroke-width="1.05"/>
<circle cx="395.20" cy="295.52" r="1.65" fill="#9A9AA2" stroke="#45454D" stroke-width="1.05"/>
<circle cx="399.20" cy="295.52" r="1.65" fill="#9A9AA2" stroke="#45454D" stroke-width="1.05"/>
<circle cx="395.20" cy="302.32" r="1.65" fill="#9A9AA2" stroke="#45454D" stroke-width="1.05"/>
<circle cx="408.80" cy="264.45" r="1.65" fill="#fff" stroke="#AC3070" stroke-width="1.05"/>
<circle cx="417.00" cy="264.45" r="1.65" fill="#fff" stroke="#AC3070" stroke-width="1.05"/>
<circle cx="412.90" cy="276.37" r="1.65" fill="#fff" stroke="#AC3070" stroke-width="1.05"/>
<circle cx="412.90" cy="281.90" r="1.65" fill="#fff" stroke="#AC3070" stroke-width="1.05"/>
<circle cx="412.90" cy="285.73" r="1.65" fill="#fff" stroke="#AC3070" stroke-width="1.05"/>
<circle cx="412.90" cy="295.52" r="1.65" fill="#fff" stroke="#AC3070" stroke-width="1.05"/>
<circle cx="412.90" cy="303.17" r="1.65" fill="#fff" stroke="#AC3070" stroke-width="1.05"/>
<line x1="389.70" y1="289.50" x2="400.70" y2="289.50" stroke="#1a1a1a" stroke-width="1.0" />
<line x1="407.40" y1="281.50" x2="418.40" y2="281.50" stroke="#1a1a1a" stroke-width="1.0" />
<text x="396.10" y="311.50" font-size="5.85" text-anchor="end" fill="#2a2a2a" stroke="#2a2a2a" stroke-width="0.14" transform="rotate(-45 396.10 311.50)">without poor karyotype</text>
<text x="413.80" y="311.50" font-size="5.85" text-anchor="end" fill="#2a2a2a" stroke="#2a2a2a" stroke-width="0.14" transform="rotate(-45 413.80 311.50)">poor karyotype</text>
<text x="175.70" y="387.10" font-size="10.5" text-anchor="start" fill="#111" font-weight="bold" stroke="#111" stroke-width="0.35">J</text>
<line x1="207.10" y1="401.70" x2="207.10" y2="489.50" stroke="#2a2a2a" stroke-width="1.1" />
<line x1="204.50" y1="489.00" x2="248.90" y2="489.00" stroke="#2a2a2a" stroke-width="1.1" />
<line x1="204.50" y1="489.00" x2="207.10" y2="489.00" stroke="#2a2a2a" stroke-width="1.0" />
<text x="201.20" y="490.75" font-size="6.1" text-anchor="end" fill="#1a1a1a" stroke="#1a1a1a" stroke-width="0.18">0</text>
<line x1="204.50" y1="467.73" x2="207.10" y2="467.73" stroke="#2a2a2a" stroke-width="1.0" />
<text x="201.20" y="469.48" font-size="6.1" text-anchor="end" fill="#1a1a1a" stroke="#1a1a1a" stroke-width="0.18">5</text>
<line x1="204.50" y1="446.45" x2="207.10" y2="446.45" stroke="#2a2a2a" stroke-width="1.0" />
<text x="201.20" y="448.20" font-size="6.1" text-anchor="end" fill="#1a1a1a" stroke="#1a1a1a" stroke-width="0.18">10</text>
<line x1="204.50" y1="425.18" x2="207.10" y2="425.18" stroke="#2a2a2a" stroke-width="1.0" />
<text x="201.20" y="426.93" font-size="6.1" text-anchor="end" fill="#1a1a1a" stroke="#1a1a1a" stroke-width="0.18">15</text>
<line x1="204.50" y1="403.90" x2="207.10" y2="403.90" stroke="#2a2a2a" stroke-width="1.0" />
<text x="201.20" y="405.65" font-size="6.1" text-anchor="end" fill="#1a1a1a" stroke="#1a1a1a" stroke-width="0.18">20</text>
<line x1="219.00" y1="489.00" x2="219.00" y2="491.60" stroke="#2a2a2a" stroke-width="1.0" />
<line x1="236.70" y1="489.00" x2="236.70" y2="491.60" stroke="#2a2a2a" stroke-width="1.0" />
<text x="188.90" y="444.85" font-size="6.9" font-weight="bold" text-anchor="middle" fill="#2a2a2a" textLength="84" lengthAdjust="spacingAndGlyphs" transform="rotate(-90 188.90 444.85)"><tspan font-style="italic">HMGA2</tspan> mRNA relative expression</text>
<text x="214.90" y="413.80" font-size="6.8" fill="#C8304E" stroke="#C8304E" stroke-width="0.12" textLength="25.6" lengthAdjust="spacingAndGlyphs"><tspan font-style="italic">P</tspan> = .0066</text>
<circle cx="219.00" cy="464.75" r="1.65" fill="#C8CDD6" stroke="#3C4660" stroke-width="1.05"/>
<circle cx="215.20" cy="481.34" r="1.65" fill="#C8CDD6" stroke="#3C4660" stroke-width="1.05"/>
<circle cx="218.20" cy="479.64" r="1.65" fill="#C8CDD6" stroke="#3C4660" stroke-width="1.05"/>
<circle cx="221.20" cy="481.34" r="1.65" fill="#C8CDD6" stroke="#3C4660" stroke-width="1.05"/>
<circle cx="223.50" cy="481.34" r="1.65" fill="#C8CDD6" stroke="#3C4660" stroke-width="1.05"/>
<circle cx="218.20" cy="488.15" r="1.65" fill="#C8CDD6" stroke="#3C4660" stroke-width="1.05"/>
<circle cx="220.50" cy="487.30" r="1.65" fill="#C8CDD6" stroke="#3C4660" stroke-width="1.05"/>
<circle cx="236.70" cy="424.92" r="1.65" fill="#fff" stroke="#D8A24E" stroke-width="1.05"/>
<circle cx="236.70" cy="450.28" r="1.65" fill="#fff" stroke="#D8A24E" stroke-width="1.05"/>
<circle cx="232.70" cy="461.77" r="1.65" fill="#fff" stroke="#D8A24E" stroke-width="1.05"/>
<circle cx="241.20" cy="459.64" r="1.65" fill="#fff" stroke="#D8A24E" stroke-width="1.05"/>
<circle cx="236.70" cy="467.73" r="1.65" fill="#fff" stroke="#D8A24E" stroke-width="1.05"/>
<circle cx="236.70" cy="471.98" r="1.65" fill="#fff" stroke="#D8A24E" stroke-width="1.05"/>
<line x1="213.50" y1="480.50" x2="224.50" y2="480.50" stroke="#1a1a1a" stroke-width="1.0" />
<line x1="231.20" y1="460.50" x2="242.20" y2="460.50" stroke="#1a1a1a" stroke-width="1.0" />
<text x="219.90" y="496.90" font-size="5.85" text-anchor="end" fill="#2a2a2a" stroke="#2a2a2a" stroke-width="0.14" transform="rotate(-45 219.90 496.90)">without non-infectious pneumonia</text>
<text x="237.60" y="496.90" font-size="5.85" text-anchor="end" fill="#2a2a2a" stroke="#2a2a2a" stroke-width="0.14" transform="rotate(-45 237.60 496.90)">Non-infectious pneumonia</text>
<text x="261.20" y="387.10" font-size="10.5" text-anchor="start" fill="#111" font-weight="bold" stroke="#111" stroke-width="0.35">K</text>
<line x1="294.40" y1="401.70" x2="294.40" y2="489.50" stroke="#2a2a2a" stroke-width="1.1" />
<line x1="291.80" y1="489.00" x2="336.20" y2="489.00" stroke="#2a2a2a" stroke-width="1.1" />
<line x1="291.80" y1="489.00" x2="294.40" y2="489.00" stroke="#2a2a2a" stroke-width="1.0" />
<text x="288.50" y="490.75" font-size="6.1" text-anchor="end" fill="#1a1a1a" stroke="#1a1a1a" stroke-width="0.18">0</text>
<line x1="291.80" y1="467.73" x2="294.40" y2="467.73" stroke="#2a2a2a" stroke-width="1.0" />
<text x="288.50" y="469.48" font-size="6.1" text-anchor="end" fill="#1a1a1a" stroke="#1a1a1a" stroke-width="0.18">5</text>
<line x1="291.80" y1="446.45" x2="294.40" y2="446.45" stroke="#2a2a2a" stroke-width="1.0" />
<text x="288.50" y="448.20" font-size="6.1" text-anchor="end" fill="#1a1a1a" stroke="#1a1a1a" stroke-width="0.18">10</text>
<line x1="291.80" y1="425.18" x2="294.40" y2="425.18" stroke="#2a2a2a" stroke-width="1.0" />
<text x="288.50" y="426.93" font-size="6.1" text-anchor="end" fill="#1a1a1a" stroke="#1a1a1a" stroke-width="0.18">15</text>
<line x1="291.80" y1="403.90" x2="294.40" y2="403.90" stroke="#2a2a2a" stroke-width="1.0" />
<text x="288.50" y="405.65" font-size="6.1" text-anchor="end" fill="#1a1a1a" stroke="#1a1a1a" stroke-width="0.18">20</text>
<line x1="306.30" y1="489.00" x2="306.30" y2="491.60" stroke="#2a2a2a" stroke-width="1.0" />
<line x1="324.00" y1="489.00" x2="324.00" y2="491.60" stroke="#2a2a2a" stroke-width="1.0" />
<text x="276.20" y="444.85" font-size="6.9" font-weight="bold" text-anchor="middle" fill="#2a2a2a" textLength="84" lengthAdjust="spacingAndGlyphs" transform="rotate(-90 276.20 444.85)"><tspan font-style="italic">HMGA2</tspan> mRNA relative expression</text>
<text x="302.20" y="413.80" font-size="6.8" fill="#222" stroke="#222" stroke-width="0.12" textLength="25.6" lengthAdjust="spacingAndGlyphs"><tspan font-style="italic">P</tspan> = .2416</text>
<circle cx="306.30" cy="424.92" r="1.65" fill="#9A9AA2" stroke="#45454D" stroke-width="1.05"/>
<circle cx="302.30" cy="449.85" r="1.65" fill="#9A9AA2" stroke="#45454D" stroke-width="1.05"/>
<circle cx="310.30" cy="449.85" r="1.65" fill="#9A9AA2" stroke="#45454D" stroke-width="1.05"/>
<circle cx="306.30" cy="459.64" r="1.65" fill="#9A9AA2" stroke="#45454D" stroke-width="1.05"/>
<circle cx="310.30" cy="464.32" r="1.65" fill="#9A9AA2" stroke="#45454D" stroke-width="1.05"/>
<circle cx="302.30" cy="467.73" r="1.65" fill="#9A9AA2" stroke="#45454D" stroke-width="1.05"/>
<circle cx="306.30" cy="471.98" r="1.65" fill="#9A9AA2" stroke="#45454D" stroke-width="1.05"/>
<circle cx="306.30" cy="475.38" r="1.65" fill="#9A9AA2" stroke="#45454D" stroke-width="1.05"/>
<circle cx="302.30" cy="481.34" r="1.65" fill="#9A9AA2" stroke="#45454D" stroke-width="1.05"/>
<circle cx="310.30" cy="481.34" r="1.65" fill="#9A9AA2" stroke="#45454D" stroke-width="1.05"/>
<circle cx="324.00" cy="440.92" r="1.65" fill="#fff" stroke="#4A9CC4" stroke-width="1.05"/>
<circle cx="324.00" cy="461.34" r="1.65" fill="#fff" stroke="#4A9CC4" stroke-width="1.05"/>
<circle cx="324.00" cy="471.13" r="1.65" fill="#fff" stroke="#4A9CC4" stroke-width="1.05"/>
<circle cx="320.00" cy="481.34" r="1.65" fill="#fff" stroke="#4A9CC4" stroke-width="1.05"/>
<circle cx="328.00" cy="479.21" r="1.65" fill="#fff" stroke="#4A9CC4" stroke-width="1.05"/>
<circle cx="320.00" cy="488.57" r="1.65" fill="#fff" stroke="#4A9CC4" stroke-width="1.05"/>
<circle cx="328.00" cy="487.72" r="1.65" fill="#fff" stroke="#4A9CC4" stroke-width="1.05"/>
<line x1="300.80" y1="466.50" x2="311.80" y2="466.50" stroke="#1a1a1a" stroke-width="1.0" />
<line x1="318.50" y1="479.50" x2="329.50" y2="479.50" stroke="#1a1a1a" stroke-width="1.0" />
<text x="307.20" y="496.90" font-size="5.85" text-anchor="end" fill="#2a2a2a" stroke="#2a2a2a" stroke-width="0.14" transform="rotate(-45 307.20 496.90)">without kidney injury</text>
<text x="324.90" y="496.90" font-size="5.85" text-anchor="end" fill="#2a2a2a" stroke="#2a2a2a" stroke-width="0.14" transform="rotate(-45 324.90 496.90)">kidney injury</text>
<text x="351.40" y="387.10" font-size="10.5" text-anchor="start" fill="#111" font-weight="bold" stroke="#111" stroke-width="0.35">L</text>
<line x1="383.40" y1="401.70" x2="383.40" y2="489.50" stroke="#2a2a2a" stroke-width="1.1" />
<line x1="380.80" y1="489.00" x2="425.20" y2="489.00" stroke="#2a2a2a" stroke-width="1.1" />
<line x1="380.80" y1="489.00" x2="383.40" y2="489.00" stroke="#2a2a2a" stroke-width="1.0" />
<text x="377.50" y="490.75" font-size="6.1" text-anchor="end" fill="#1a1a1a" stroke="#1a1a1a" stroke-width="0.18">0</text>
<line x1="380.80" y1="467.73" x2="383.40" y2="467.73" stroke="#2a2a2a" stroke-width="1.0" />
<text x="377.50" y="469.48" font-size="6.1" text-anchor="end" fill="#1a1a1a" stroke="#1a1a1a" stroke-width="0.18">5</text>
<line x1="380.80" y1="446.45" x2="383.40" y2="446.45" stroke="#2a2a2a" stroke-width="1.0" />
<text x="377.50" y="448.20" font-size="6.1" text-anchor="end" fill="#1a1a1a" stroke="#1a1a1a" stroke-width="0.18">10</text>
<line x1="380.80" y1="425.18" x2="383.40" y2="425.18" stroke="#2a2a2a" stroke-width="1.0" />
<text x="377.50" y="426.93" font-size="6.1" text-anchor="end" fill="#1a1a1a" stroke="#1a1a1a" stroke-width="0.18">15</text>
<line x1="380.80" y1="403.90" x2="383.40" y2="403.90" stroke="#2a2a2a" stroke-width="1.0" />
<text x="377.50" y="405.65" font-size="6.1" text-anchor="end" fill="#1a1a1a" stroke="#1a1a1a" stroke-width="0.18">20</text>
<line x1="395.30" y1="489.00" x2="395.30" y2="491.60" stroke="#2a2a2a" stroke-width="1.0" />
<line x1="413.00" y1="489.00" x2="413.00" y2="491.60" stroke="#2a2a2a" stroke-width="1.0" />
<text x="365.20" y="444.85" font-size="6.9" font-weight="bold" text-anchor="middle" fill="#2a2a2a" textLength="84" lengthAdjust="spacingAndGlyphs" transform="rotate(-90 365.20 444.85)"><tspan font-style="italic">HMGA2</tspan> mRNA relative expression</text>
<text x="391.20" y="413.80" font-size="6.8" fill="#222" stroke="#222" stroke-width="0.12" textLength="25.6" lengthAdjust="spacingAndGlyphs"><tspan font-style="italic">P</tspan> = .9161</text>
<circle cx="395.30" cy="424.92" r="1.65" fill="#9A9AA2" stroke="#45454D" stroke-width="1.05"/>
<circle cx="395.30" cy="441.34" r="1.65" fill="#9A9AA2" stroke="#45454D" stroke-width="1.05"/>
<circle cx="395.30" cy="459.64" r="1.65" fill="#9A9AA2" stroke="#45454D" stroke-width="1.05"/>
<circle cx="391.30" cy="461.77" r="1.65" fill="#9A9AA2" stroke="#45454D" stroke-width="1.05"/>
<circle cx="399.50" cy="464.75" r="1.65" fill="#9A9AA2" stroke="#45454D" stroke-width="1.05"/>
<circle cx="395.30" cy="466.87" r="1.65" fill="#9A9AA2" stroke="#45454D" stroke-width="1.05"/>
<circle cx="395.30" cy="469.43" r="1.65" fill="#9A9AA2" stroke="#45454D" stroke-width="1.05"/>
<circle cx="395.30" cy="471.98" r="1.65" fill="#9A9AA2" stroke="#45454D" stroke-width="1.05"/>
<circle cx="395.30" cy="475.17" r="1.65" fill="#9A9AA2" stroke="#45454D" stroke-width="1.05"/>
<circle cx="391.30" cy="478.79" r="1.65" fill="#9A9AA2" stroke="#45454D" stroke-width="1.05"/>
<circle cx="395.30" cy="480.92" r="1.65" fill="#9A9AA2" stroke="#45454D" stroke-width="1.05"/>
<circle cx="399.50" cy="480.49" r="1.65" fill="#9A9AA2" stroke="#45454D" stroke-width="1.05"/>
<circle cx="395.30" cy="487.30" r="1.65" fill="#9A9AA2" stroke="#45454D" stroke-width="1.05"/>
<circle cx="408.90" cy="449.85" r="1.65" fill="#fff" stroke="#AC3070" stroke-width="1.05"/>
<circle cx="417.10" cy="449.85" r="1.65" fill="#fff" stroke="#AC3070" stroke-width="1.05"/>
<circle cx="413.00" cy="471.13" r="1.65" fill="#fff" stroke="#AC3070" stroke-width="1.05"/>
<circle cx="413.00" cy="481.34" r="1.65" fill="#fff" stroke="#AC3070" stroke-width="1.05"/>
<circle cx="413.00" cy="488.57" r="1.65" fill="#fff" stroke="#AC3070" stroke-width="1.05"/>
<line x1="389.80" y1="469.50" x2="400.80" y2="469.50" stroke="#1a1a1a" stroke-width="1.0" />
<line x1="407.50" y1="471.50" x2="418.50" y2="471.50" stroke="#1a1a1a" stroke-width="1.0" />
<text x="396.20" y="496.90" font-size="5.85" text-anchor="end" fill="#2a2a2a" stroke="#2a2a2a" stroke-width="0.14" transform="rotate(-45 396.20 496.90)">without hemorrhage</text>
<text x="413.90" y="496.90" font-size="5.85" text-anchor="end" fill="#2a2a2a" stroke="#2a2a2a" stroke-width="0.14" transform="rotate(-45 413.90 496.90)">hemorrhage</text>
<text x="436.30" y="387.10" font-size="10.5" text-anchor="start" fill="#111" font-weight="bold" stroke="#111" stroke-width="0.35">M</text>
<line x1="471.90" y1="401.70" x2="471.90" y2="489.50" stroke="#2a2a2a" stroke-width="1.1" />
<line x1="469.30" y1="489.00" x2="513.70" y2="489.00" stroke="#2a2a2a" stroke-width="1.1" />
<line x1="469.30" y1="489.00" x2="471.90" y2="489.00" stroke="#2a2a2a" stroke-width="1.0" />
<text x="466.00" y="490.75" font-size="6.1" text-anchor="end" fill="#1a1a1a" stroke="#1a1a1a" stroke-width="0.18">0</text>
<line x1="469.30" y1="467.73" x2="471.90" y2="467.73" stroke="#2a2a2a" stroke-width="1.0" />
<text x="466.00" y="469.48" font-size="6.1" text-anchor="end" fill="#1a1a1a" stroke="#1a1a1a" stroke-width="0.18">5</text>
<line x1="469.30" y1="446.45" x2="471.90" y2="446.45" stroke="#2a2a2a" stroke-width="1.0" />
<text x="466.00" y="448.20" font-size="6.1" text-anchor="end" fill="#1a1a1a" stroke="#1a1a1a" stroke-width="0.18">10</text>
<line x1="469.30" y1="425.18" x2="471.90" y2="425.18" stroke="#2a2a2a" stroke-width="1.0" />
<text x="466.00" y="426.93" font-size="6.1" text-anchor="end" fill="#1a1a1a" stroke="#1a1a1a" stroke-width="0.18">15</text>
<line x1="469.30" y1="403.90" x2="471.90" y2="403.90" stroke="#2a2a2a" stroke-width="1.0" />
<text x="466.00" y="405.65" font-size="6.1" text-anchor="end" fill="#1a1a1a" stroke="#1a1a1a" stroke-width="0.18">20</text>
<line x1="483.80" y1="489.00" x2="483.80" y2="491.60" stroke="#2a2a2a" stroke-width="1.0" />
<line x1="501.50" y1="489.00" x2="501.50" y2="491.60" stroke="#2a2a2a" stroke-width="1.0" />
<text x="453.70" y="444.85" font-size="6.9" font-weight="bold" text-anchor="middle" fill="#2a2a2a" textLength="84" lengthAdjust="spacingAndGlyphs" transform="rotate(-90 453.70 444.85)"><tspan font-style="italic">HMGA2</tspan> mRNA relative expression</text>
<text x="479.70" y="413.80" font-size="6.8" fill="#222" stroke="#222" stroke-width="0.12" textLength="25.6" lengthAdjust="spacingAndGlyphs"><tspan font-style="italic">P</tspan> = .3657</text>
<circle cx="483.80" cy="441.34" r="1.65" fill="#C8CDD6" stroke="#3C4660" stroke-width="1.05"/>
<circle cx="483.80" cy="449.85" r="1.65" fill="#C8CDD6" stroke="#3C4660" stroke-width="1.05"/>
<circle cx="488.00" cy="464.32" r="1.65" fill="#C8CDD6" stroke="#3C4660" stroke-width="1.05"/>
<circle cx="483.80" cy="466.87" r="1.65" fill="#C8CDD6" stroke="#3C4660" stroke-width="1.05"/>
<circle cx="488.00" cy="470.70" r="1.65" fill="#C8CDD6" stroke="#3C4660" stroke-width="1.05"/>
<circle cx="483.80" cy="475.38" r="1.65" fill="#C8CDD6" stroke="#3C4660" stroke-width="1.05"/>
<circle cx="479.80" cy="478.79" r="1.65" fill="#C8CDD6" stroke="#3C4660" stroke-width="1.05"/>
<circle cx="483.80" cy="481.34" r="1.65" fill="#C8CDD6" stroke="#3C4660" stroke-width="1.05"/>
<circle cx="488.00" cy="481.34" r="1.65" fill="#C8CDD6" stroke="#3C4660" stroke-width="1.05"/>
<circle cx="483.80" cy="488.57" r="1.65" fill="#C8CDD6" stroke="#3C4660" stroke-width="1.05"/>
<circle cx="501.50" cy="424.92" r="1.65" fill="#fff" stroke="#428C48" stroke-width="1.05"/>
<circle cx="501.50" cy="449.85" r="1.65" fill="#fff" stroke="#428C48" stroke-width="1.05"/>
<circle cx="497.50" cy="461.77" r="1.65" fill="#fff" stroke="#428C48" stroke-width="1.05"/>
<circle cx="505.90" cy="460.07" r="1.65" fill="#fff" stroke="#428C48" stroke-width="1.05"/>
<circle cx="501.50" cy="481.34" r="1.65" fill="#fff" stroke="#428C48" stroke-width="1.05"/>
<circle cx="501.50" cy="487.72" r="1.65" fill="#fff" stroke="#428C48" stroke-width="1.05"/>
<line x1="478.30" y1="471.50" x2="489.30" y2="471.50" stroke="#1a1a1a" stroke-width="1.0" />
<line x1="496.00" y1="460.50" x2="507.00" y2="460.50" stroke="#1a1a1a" stroke-width="1.0" />
<text x="484.70" y="496.90" font-size="5.85" text-anchor="end" fill="#2a2a2a" stroke="#2a2a2a" stroke-width="0.14" transform="rotate(-45 484.70 496.90)">without bone marrow fibrosis</text>
<text x="502.40" y="496.90" font-size="5.85" text-anchor="end" fill="#2a2a2a" stroke="#2a2a2a" stroke-width="0.14" transform="rotate(-45 502.40 496.90)">bone marrow fibrosis</text>
<rect x="0.5" y="0.5" width="519" height="565" fill="none" stroke="#646464" stroke-width="1"/>
</svg></body></html>
